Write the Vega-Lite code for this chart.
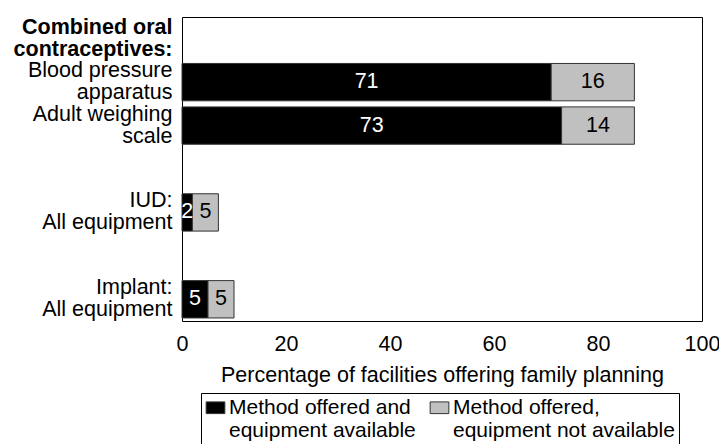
{
  "$schema": "https://vega.github.io/schema/vega-lite/v6.json",
  "width": 520,
  "height": 304,
  "autosize": {"type": "none"},
  "padding": {"left": 182, "top": 17, "right": 17, "bottom": 123},
  "background": "white",
  "config": {
    "font": "Liberation Sans",
    "view": {"stroke": "black", "strokeWidth": 1},
    "axis": {"grid": false}
  },
  "data": {
    "values": [
      {"item": "Blood pressure|apparatus", "status": "Method offered and|equipment available", "pct": 71},
      {"item": "Blood pressure|apparatus", "status": "Method offered,|equipment not available", "pct": 16},
      {"item": "Adult weighing|scale", "status": "Method offered and|equipment available", "pct": 73},
      {"item": "Adult weighing|scale", "status": "Method offered,|equipment not available", "pct": 14},
      {"item": "IUD:|All equipment", "status": "Method offered and|equipment available", "pct": 2},
      {"item": "IUD:|All equipment", "status": "Method offered,|equipment not available", "pct": 5},
      {"item": "Implant:|All equipment", "status": "Method offered and|equipment available", "pct": 5},
      {"item": "Implant:|All equipment", "status": "Method offered,|equipment not available", "pct": 5}
    ]
  },
  "transform": [
    {"stack": "pct", "groupby": ["item"], "sort": [{"field": "status", "order": "ascending"}], "as": ["v0", "v1"]},
    {"calculate": "(datum.v0 + datum.v1) / 2", "as": "vmid"}
  ],
  "encoding": {
    "y": {
      "field": "item",
      "type": "nominal",
      "scale": {
        "domain": ["Combined oral|contraceptives:", "Blood pressure|apparatus", "Adult weighing|scale", " ", "IUD:|All equipment", "  ", "Implant:|All equipment"],
        "paddingInner": 0.14,
        "paddingOuter": 0.07
      },
      "axis": {
        "title": null,
        "ticks": false,
        "domain": false,
        "labelPadding": 10,
        "labelOffset": -11,
        "labelFontSize": 21.5,
        "labelLineHeight": 22,
        "labelColor": "black",
        "labelLimit": 300,
        "labelOverlap": false,
        "labelBound": false,
        "labelExpr": "split(datum.value, '|')",
        "labelFontWeight": {"condition": {"test": "datum.value === 'Combined oral|contraceptives:'", "value": "bold"}, "value": "normal"}
      }
    }
  },
  "layer": [
    {
      "mark": {"type": "bar", "stroke": "#333333", "strokeWidth": 1},
      "encoding": {
        "x": {
          "field": "v0",
          "type": "quantitative",
          "scale": {"domain": [0, 100], "nice": false},
          "axis": {
            "title": "Percentage of facilities offering family planning",
            "values": [0, 20, 40, 60, 80, 100],
            "ticks": false,
            "domain": false,
            "labelFlush": false,
            "labelPadding": 12,
            "labelFontSize": 21.5,
            "labelColor": "black",
            "titleFontSize": 21.5,
            "titleFontWeight": "normal",
            "titleColor": "black",
            "titlePadding": 10
          }
        },
        "x2": {"field": "v1"},
        "color": {
          "field": "status",
          "type": "nominal",
          "scale": {
            "domain": ["Method offered and|equipment available", "Method offered,|equipment not available"],
            "range": ["#000000", "#c0c0c0"]
          },
          "legend": {
            "title": null,
            "orient": "none",
            "legendX": 19,
            "legendY": 376,
            "direction": "horizontal",
            "columns": 2,
            "columnPadding": 12,
            "labelFontSize": 21,
            "labelLineHeight": 22,
            "labelLimit": 400,
            "labelColor": "black",
            "labelOffset": 3,
            "labelExpr": "split(datum.value, '|')",
            "symbolType": "M-1,-0.625H1V0.625H-1Z",
            "symbolSize": 350,
            "symbolStrokeColor": "#333333",
            "symbolStrokeWidth": 1,
            "symbolOpacity": 1,
            "strokeColor": "black",
            "fillColor": "white",
            "padding": 4
          }
        }
      }
    },
    {
      "mark": {"type": "text", "fontSize": 21.5},
      "encoding": {
        "x": {"field": "vmid", "type": "quantitative"},
        "text": {"field": "pct", "type": "quantitative"},
        "color": {
          "condition": {"test": "datum.status === 'Method offered and|equipment available'", "value": "white"},
          "value": "black"
        }
      }
    }
  ]
}
